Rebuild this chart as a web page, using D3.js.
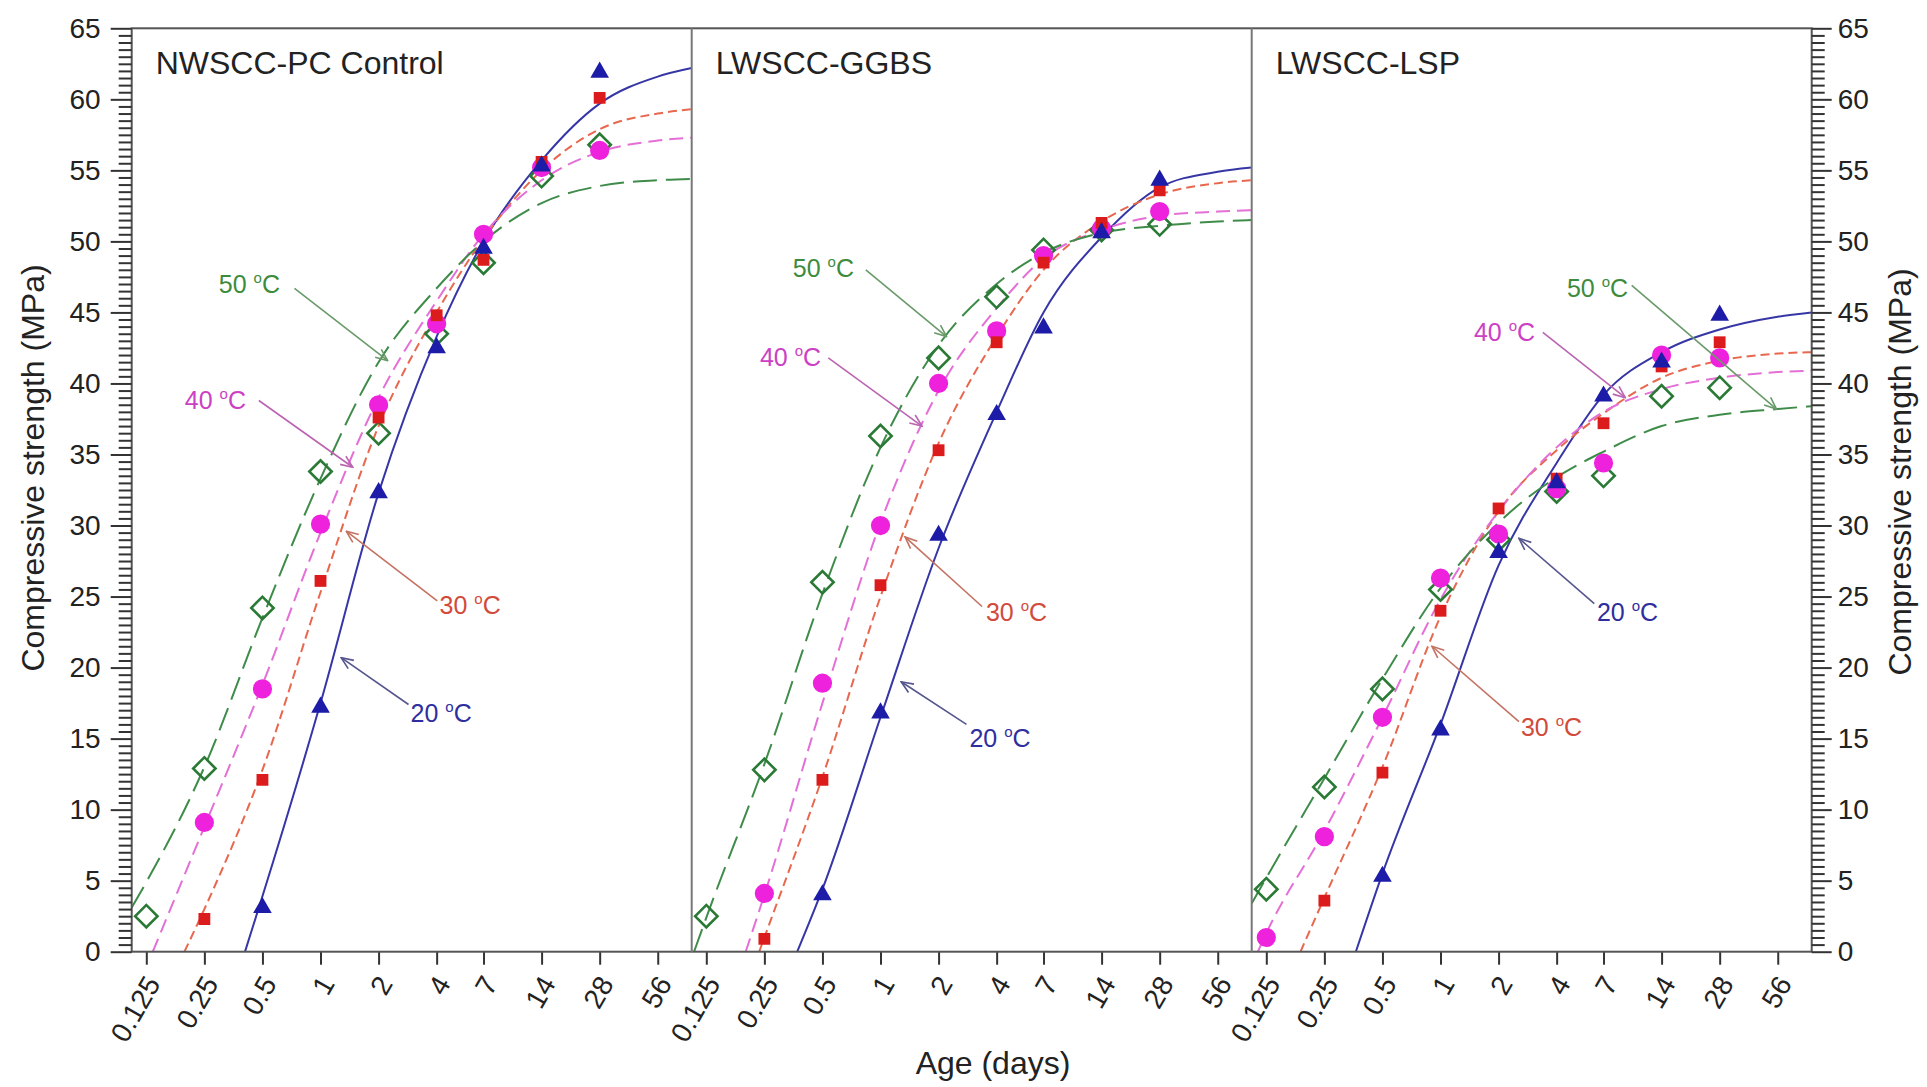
<!DOCTYPE html>
<html>
<head>
<meta charset="utf-8">
<script src="https://cdn.jsdelivr.net/npm/d3@7"></script>
<style>
body { margin: 0; background: #fff; }
svg { font-family: "Liberation Sans", Arial, sans-serif; }
</style>
</head>
<body>
<svg width="1927" height="1087"></svg>
<script>
// test ages (days) and x tick labels
let ages = [0.125, 0.25, 0.5, 1, 2, 4, 7, 14, 28]
let xTickValues = [0.125, 0.25, 0.5, 1, 2, 4, 7, 14, 28, 56]
let panelNames = ["NWSCC-PC Control", "LWSCC-GGBS", "LWSCC-LSP"]
let temps = ["20", "30", "40", "50"]

// measured strengths (MPa), null = no point
let pc20 = [null, null, 3.1, 17.2, 32.3, 42.5, 49.5, 55.3, 61.9]
let pc30 = [null, 2.3, 12.1, 26.1, 37.6, 44.8, 48.7, 55.6, 60.1]
let pc40 = [null, 9.1, 18.5, 30.1, 38.5, 44.2, 50.5, 55.2, 56.4]
let pc50 = [2.5, 12.9, 24.2, 33.8, 36.5, 43.5, 48.5, 54.6, 56.8]

let ggbs20 = [null, null, 4.0, 16.8, 29.3, 37.8, 43.9, 50.6, 54.3]
let ggbs30 = [null, 0.9, 12.1, 25.8, 35.3, 42.9, 48.5, 51.3, 53.6]
let ggbs40 = [null, 4.1, 18.9, 30.0, 40.0, 43.7, 49.0, 50.9, 52.1]
let ggbs50 = [2.5, 12.8, 26.0, 36.3, 41.8, 46.1, 49.4, 50.8, 51.2]

let lsp20 = [null, null, 5.3, 15.6, 28.1, 33.0, 39.1, 41.5, 44.8]
let lsp30 = [null, 3.6, 12.6, 24.0, 31.2, 33.3, 37.2, 41.2, 42.9]
let lsp40 = [1.0, 8.1, 16.5, 26.3, 29.4, 32.6, 34.4, 42.0, 41.8]
let lsp50 = [4.4, 11.6, 18.5, 25.5, 29.0, 32.4, 33.5, 39.1, 39.7]

// fitted curves: [age, MPa]
let pcFit20 = [[0.406,0],[0.5,3.9],[1,17.5],[2,32.3],[4,43.3],[7,50.0],[14,55.7],[28,59.7],[56,61.6],[84,62.2]]
let pcFit30 = [[0.197,0],[0.25,3.0],[0.5,12.8],[1,25.3],[2,37.0],[4,45.0],[7,50.2],[14,55.0],[28,57.9],[56,59.0],[84,59.3]]
let pcFit40 = [[0.135,0],[0.25,8.8],[0.5,18.8],[1,29.5],[2,39.0],[4,45.8],[7,50.5],[14,54.3],[28,56.3],[56,57.1],[84,57.3]]
let pcFit50 = [[0.105,3.1],[0.125,4.9],[0.25,13.0],[0.5,23.5],[1,33.3],[2,41.5],[4,46.7],[7,50.0],[14,52.7],[28,53.9],[56,54.3],[84,54.4]]

let ggbsFit20 = [[0.37,0],[0.5,4.4],[1,16.5],[2,28.4],[4,38.0],[7,45.0],[14,50.3],[28,53.8],[56,54.9],[84,55.2]]
let ggbsFit30 = [[0.235,0],[0.25,1.0],[0.5,12.3],[1,25.0],[2,35.8],[4,43.3],[7,48.0],[14,51.4],[28,53.3],[56,54.1],[84,54.3]]
let ggbsFit40 = [[0.2,0],[0.25,4.0],[0.5,17.5],[1,30.2],[2,39.5],[4,45.3],[7,48.8],[14,50.8],[28,51.8],[56,52.1],[84,52.2]]
let ggbsFit50 = [[0.108,0],[0.125,2.4],[0.25,13.2],[0.5,25.2],[1,35.5],[2,42.7],[4,47.0],[7,49.2],[14,50.6],[28,51.1],[56,51.4],[84,51.5]]

let lspFit20 = [[0.364,0],[0.5,5.5],[1,16.0],[2,27.2],[4,34.4],[7,39.2],[14,42.2],[28,43.8],[56,44.7],[84,45.0]]
let lspFit30 = [[0.188,0],[0.25,3.8],[0.5,13.0],[1,23.6],[2,31.0],[4,35.3],[7,37.9],[14,40.4],[28,41.6],[56,42.1],[84,42.2]]
let lspFit40 = [[0.113,0],[0.125,1.3],[0.25,8.5],[0.5,16.5],[1,24.8],[2,31.0],[4,35.5],[7,38.0],[14,39.6],[28,40.4],[56,40.8],[84,40.9]]
let lspFit50 = [[0.105,3.4],[0.125,5.2],[0.25,12.2],[0.5,19.2],[1,25.6],[2,30.2],[4,33.4],[7,35.2],[14,37.0],[28,37.8],[56,38.2],[84,38.4]]

// temperature call-outs, order 20,30,40,50: label start, arrow start, arrow tip
let pcNoteText = [[2.93,16.2],[4.14,23.8],[0.198,38.2],[0.297,46.4]]
let pcNoteFrom = [[2.86,17.4],[4.03,24.7],[0.479,38.8],[0.733,46.7]]
let pcNoteTo   = [[1.28,20.7],[1.36,29.6],[1.47,34.1],[2.23,41.6]]

let ggbsNoteText = [[2.89,14.4],[3.52,23.3],[0.237,41.2],[0.351,47.5]]
let ggbsNoteFrom = [[2.79,16.0],[3.36,24.3],[0.536,41.8],[0.839,48.0]]
let ggbsNoteTo   = [[1.28,19.0],[1.34,29.2],[1.64,37.0],[2.20,43.3]]

let lspNoteText = [[6.47,23.3],[2.61,15.2],[1.49,43.0],[4.52,46.1]]
let lspNoteFrom = [[6.27,24.5],[2.55,16.2],[3.39,43.6],[9.8,46.9]]
let lspNoteTo   = [[2.55,29.1],[0.903,21.5],[9.08,39.0],[55.2,38.2]]

let panels = [
    { name: panelNames[0], pts: [pc20, pc30, pc40, pc50], fits: [pcFit20, pcFit30, pcFit40, pcFit50],
      noteText: pcNoteText, noteFrom: pcNoteFrom, noteTo: pcNoteTo },
    { name: panelNames[1], pts: [ggbs20, ggbs30, ggbs40, ggbs50], fits: [ggbsFit20, ggbsFit30, ggbsFit40, ggbsFit50],
      noteText: ggbsNoteText, noteFrom: ggbsNoteFrom, noteTo: ggbsNoteTo },
    { name: panelNames[2], pts: [lsp20, lsp30, lsp40, lsp50], fits: [lspFit20, lspFit30, lspFit40, lspFit50],
      noteText: lspNoteText, noteFrom: lspNoteFrom, noteTo: lspNoteTo }
]

let width = 1927
let height = 1087
let margin = { top: 28.3, left: 131.7 }
let plotW = 1680
let plotH = 923.4
let panelW = plotW / 3
let bottom = margin.top + plotH

let markerColor = ["#1c1ca8", "#dc1c1c", "#ee22dd", "#2a7a36"]
let lineColor = ["#3636a6", "#e8674f", "#e46fd6", "#3f8c4a"]
let dash = [null, "9,5", "14,7", "24,9"]
let noteColor = ["#2e2e9e", "#d24a3a", "#cc40c4", "#3d8b3d"]
let arrowColor = ["#56568e", "#c47262", "#bb64b2", "#6a9a6a"]
let symbols = [d3.symbolTriangle, d3.symbolSquare, d3.symbolCircle, d3.symbolSquare]
let symbolSize = [150, 140, 290, 250]

let svg = d3.select("svg")

let y = d3.scaleLinear()
    .domain([0, 65])
    .range([bottom, margin.top])

let defs = svg.append("defs")
temps.forEach(function (t, k) {
    defs.append("marker")
        .attr("id", "arrow" + t)
        .attr("viewBox", "0 -6 14 12")
        .attr("refX", 13)
        .attr("refY", 0)
        .attr("markerWidth", 14)
        .attr("markerHeight", 12)
        .attr("markerUnits", "userSpaceOnUse")
        .attr("orient", "auto")
        .append("path")
        .attr("d", "M1,-5 L13,0 L1,5")
        .style("fill", "none")
        .style("stroke", arrowColor[k])
        .style("stroke-width", 1.6)
})

panels.forEach(function (p, i) {
    let left = margin.left + i * panelW

    let x = d3.scaleLog()
        .base(2)
        .domain([0.105, 84])
        .range([left, left + panelW])

    defs.append("clipPath")
        .attr("id", "clip" + i)
        .append("rect")
        .attr("x", left)
        .attr("y", margin.top)
        .attr("width", panelW)
        .attr("height", plotH)

    let g = svg.append("g").attr("clip-path", `url(#clip${i})`)

    let line = d3.line()
        .x(d => x(d[0]))
        .y(d => y(d[1]))
        .curve(d3.curveMonotoneX)

    // fitted curves
    p.fits.forEach(function (fit, k) {
        g.append("path")
            .datum(fit)
            .attr("d", line)
            .style("fill", "none")
            .style("stroke", lineColor[k])
            .style("stroke-width", 2)
            .style("stroke-dasharray", dash[k])
    })

    // measured points, 50 first so 20 sits on top
    d3.range(3, -1, -1).forEach(function (k) {
        let rows = ages.map((a, j) => ({ age: a, v: p.pts[k][j] })).filter(d => d.v != null)
        g.selectAll(".pt" + k)
            .data(rows)
            .join("path")
            .attr("class", "pt" + k)
            .attr("d", d3.symbol().type(symbols[k]).size(symbolSize[k]))
            .attr("transform", d => `translate(${x(d.age)},${y(d.v)})` + (k == 3 ? " rotate(45)" : ""))
            .style("fill", k == 3 ? "none" : markerColor[k])
            .style("stroke", markerColor[k])
            .style("stroke-width", k == 3 ? 2.6 : 0)
    })

    // bottom ticks for this panel
    let xAxis = svg.append("g")
        .attr("transform", `translate(0,${bottom})`)
        .call(d3.axisBottom(x).tickValues(xTickValues).tickFormat(d => String(d)).tickSize(13))
    xAxis.select(".domain").remove()
    xAxis.selectAll(".tick line").style("stroke", "#333").style("stroke-width", 2)
    xAxis.selectAll(".tick text")
        .attr("x", 0)
        .attr("y", 0)
        .attr("dy", "0.35em")
        .attr("text-anchor", "end")
        .attr("transform", "translate(6,27) rotate(-60)")
        .style("font-size", "28px")
        .style("font-family", "Liberation Sans, Arial, sans-serif")
        .style("fill", "#222")

    // panel title
    svg.append("text")
        .attr("x", left + 24)
        .attr("y", margin.top + 46)
        .text(p.name)
        .style("font-size", "32px")
        .style("fill", "#222")

    // temperature call-outs
    temps.forEach(function (t, k) {
        svg.append("line")
            .attr("x1", x(p.noteFrom[k][0]))
            .attr("y1", y(p.noteFrom[k][1]))
            .attr("x2", x(p.noteTo[k][0]))
            .attr("y2", y(p.noteTo[k][1]))
            .style("stroke", arrowColor[k])
            .style("stroke-width", 1.6)
            .attr("marker-end", `url(#arrow${t})`)

        let label = svg.append("text")
            .attr("x", x(p.noteText[k][0]))
            .attr("y", y(p.noteText[k][1]))
            .style("font-size", "25px")
            .style("fill", noteColor[k])
        label.append("tspan").text(t + " ")
        label.append("tspan").text("o").style("font-size", "15px").attr("dy", -10)
        label.append("tspan").text("C").attr("dy", 10)
    })
})

// frame and panel dividers
svg.append("rect")
    .attr("x", margin.left)
    .attr("y", margin.top)
    .attr("width", plotW)
    .attr("height", plotH)
    .style("fill", "none")
    .style("stroke", "#555")
    .style("stroke-width", 2)

svg.selectAll(".divider")
    .data([1, 2])
    .join("line")
    .attr("class", "divider")
    .attr("x1", d => margin.left + d * panelW)
    .attr("x2", d => margin.left + d * panelW)
    .attr("y1", margin.top)
    .attr("y2", bottom)
    .style("stroke", "#777")
    .style("stroke-width", 2)

// y axes, left and right, with minor ticks
let majorY = d3.range(0, 66, 5)
let minorY = d3.range(0, 65.01, 0.5).filter(v => v % 5 != 0)

function styleAxis(sel) {
    sel.select(".domain").remove()
    sel.selectAll(".tick line").style("stroke", "#333").style("stroke-width", 2)
    sel.selectAll(".tick text")
        .style("font-size", "28px")
        .style("font-family", "Liberation Sans, Arial, sans-serif")
        .style("fill", "#222")
}

svg.append("g")
    .attr("transform", `translate(${margin.left},0)`)
    .call(d3.axisLeft(y).tickValues(minorY).tickSize(13).tickFormat(""))
    .call(styleAxis)
svg.append("g")
    .attr("transform", `translate(${margin.left},0)`)
    .call(d3.axisLeft(y).tickValues(majorY).tickSize(21).tickPadding(10))
    .call(styleAxis)

svg.append("g")
    .attr("transform", `translate(${margin.left + plotW},0)`)
    .call(d3.axisRight(y).tickValues(minorY).tickSize(13).tickFormat(""))
    .call(styleAxis)
svg.append("g")
    .attr("transform", `translate(${margin.left + plotW},0)`)
    .call(d3.axisRight(y).tickValues(majorY).tickSize(20).tickPadding(6))
    .call(styleAxis)

// axis titles
svg.append("text")
    .attr("transform", `translate(33,${margin.top + plotH / 2 - 22}) rotate(-90)`)
    .attr("text-anchor", "middle")
    .attr("dy", "0.35em")
    .text("Compressive strength (MPa)")
    .style("font-size", "32px")
    .style("fill", "#222")

svg.append("text")
    .attr("transform", `translate(1900,${margin.top + plotH / 2 - 18}) rotate(-90)`)
    .attr("text-anchor", "middle")
    .attr("dy", "0.35em")
    .text("Compressive strength (MPa)")
    .style("font-size", "32px")
    .style("fill", "#222")

svg.append("text")
    .attr("x", 993)
    .attr("y", 1074)
    .attr("text-anchor", "middle")
    .text("Age (days)")
    .style("font-size", "32px")
    .style("fill", "#222")
</script>
</body>
</html>
